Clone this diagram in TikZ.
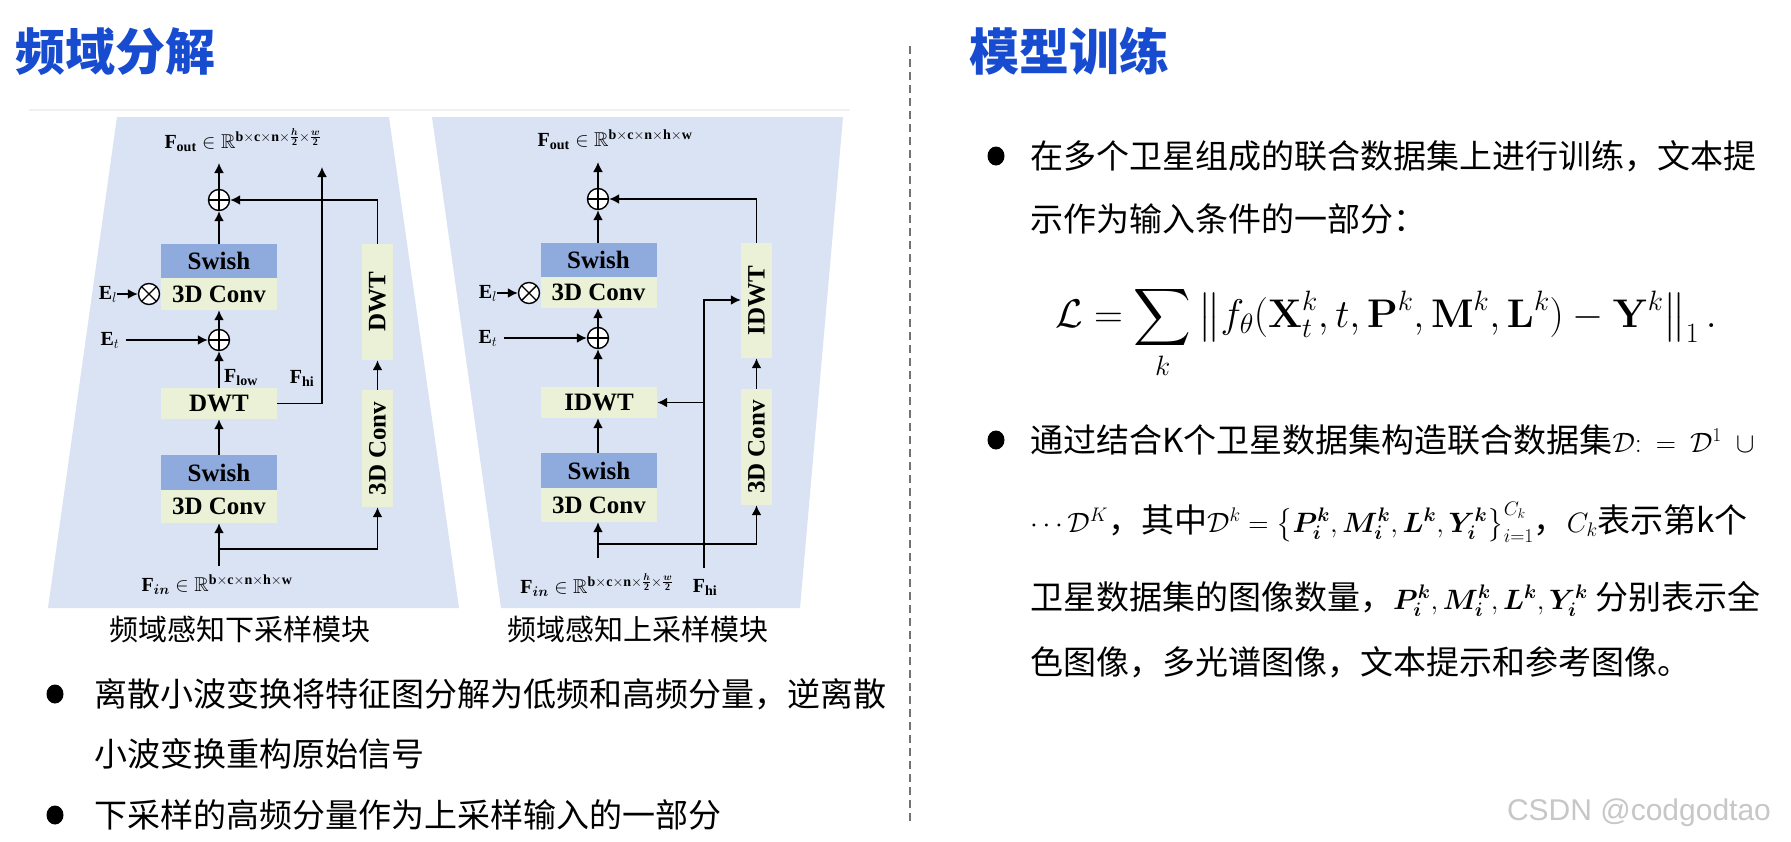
\RequirePackage{fix-cm}
\documentclass[tikz,border=0pt]{standalone}
\usepackage{amsmath,amssymb}
\usepackage{bm}
\usepackage{graphicx}
\usepackage{fontspec}
\setmainfont{Liberation Serif}
\newfontfamily\cjk{Noto Sans CJK SC}
\newfontfamily\wmark{Liberation Sans}
\DeclareMathAlphabet{\mathcmb}{OT1}{cmr}{bx}{n}
\usetikzlibrary{arrows.meta,positioning,shapes.geometric}

\definecolor{trapc}{RGB}{218,227,244}
\definecolor{swishc}{RGB}{143,170,220}
\definecolor{convc}{RGB}{235,241,214}
\definecolor{titlec}{RGB}{24,76,208}

\newcommand{\diafont}{\fontsize{25}{30}\selectfont\bfseries}
\newcommand{\labfont}{\fontsize{20}{23}\selectfont}
\newcommand{\txtfont}{\cjk\fontsize{33}{40}\selectfont}
\newcommand{\smath}[1]{{\fontsize{28}{34}\selectfont$#1$}}

\begin{document}
\begin{tikzpicture}[x=1pt,y=-1pt,
  flow/.style={line width=1.8pt,-{Latex[length=10pt,width=10pt]}},
  swishbox/.style={fill=swishc,minimum width=116pt,minimum height=34pt,inner sep=0pt,font=\diafont},
  convbox/.style={fill=convc,minimum width=116pt,minimum height=32pt,inner sep=0pt,font=\diafont},
  vbox/.style={fill=convc,minimum width=31pt,minimum height=116pt,inner sep=0pt,font=\diafont},
  addop/.style={circle,draw,fill=white,line width=1.4pt,minimum size=21pt,inner sep=0pt,
    path picture={\draw[line width=1.4pt]
      (path picture bounding box.north)--(path picture bounding box.south)
      (path picture bounding box.west)--(path picture bounding box.east);}},
  mulop/.style={circle,draw,fill=white,line width=1.4pt,minimum size=21pt,inner sep=0pt,
    path picture={\draw[line width=1.4pt]
      (path picture bounding box.north west)--(path picture bounding box.south east)
      (path picture bounding box.north east)--(path picture bounding box.south west);}},
  lab/.style={font=\labfont,inner sep=0pt},
  txt/.style={font=\txtfont,anchor=base west,inner sep=0pt},
  blockcap/.style={font=\cjk\fontsize{29}{34}\selectfont,anchor=base,inner sep=0pt},
  title/.style={font=\cjk\bfseries\fontsize{50}{56}\selectfont,text=titlec,anchor=base west,inner sep=0pt},
  dot/.style={ellipse,fill=black,minimum width=17pt,minimum height=19pt,inner sep=0pt}]
\useasboundingbox (0,0) rectangle (1791,841);
\fill[white] (0,0) rectangle (1791,841);

\node[title] (h1) at (15,70) {频域分解};
\node[title] (h2) at (969,70) {模型训练};
\draw[black!6,line width=2pt] (29,110)--(850,110);
\draw[black!55,line width=1.5pt,dash pattern=on 8pt off 5pt] (910,46)--(910,822);

\fill[trapc] (117,117)--(389,117)--(459,608)--(48,608)--cycle;
\fill[trapc] (432,117)--(843,117)--(800,608)--(501,608)--cycle;

% down-sampling block
\node[lab] (foutA) at (243,140)
  {$\mathbf{F}_{\mathbf{out}}\in\mathbb{R}^{\mathbf{b}\times\mathbf{c}\times\mathbf{n}\times\frac{\bm{h}}{\mathbf{2}}\times\frac{\bm{w}}{\mathbf{2}}}$};
\coordinate (outA) at (219,163);
\node[addop] (addA1) at (219,200) {};
\node[swishbox] (swA) at (219,261) {Swish};
\node[convbox] (cvA) at (219,294) {3D Conv};
\node[mulop] (mulA) at (149,294) {};
\node[lab] (elA) at (108,294) {$\mathbf{E}_l$};
\node[addop] (addA2) at (219,340) {};
\node[lab] (etA) at (110,340) {$\mathbf{E}_t$};
\node[convbox,minimum height=31pt] (dwtA) at (219,403.5) {DWT};
\node[lab,anchor=west] (flowA) at (224,378) {$\mathbf{F}_{\mathbf{low}}$};
\node[lab] (fhiA) at (302,378) {$\mathbf{F}_{\mathbf{hi}}$};
\node[swishbox,minimum height=35pt] (swA2) at (219,472.5) {Swish};
\node[convbox,minimum height=33pt] (cvA2) at (219,506.5) {3D Conv};
\node[vbox] (dwtAv) at (377.5,302) {\rotatebox{90}{DWT}};
\node[vbox,minimum height=117pt] (cvAv) at (377.5,448.5) {\rotatebox{90}{3D Conv}};
\coordinate (inA) at (219,566);
\coordinate (brA) at (219,549);
\coordinate (hiA) at (322,167);
\node[lab] (finA) at (217,585) {$\mathbf{F}_{\bm{in}}\in\mathbb{R}^{\mathbf{b}\times\mathbf{c}\times\mathbf{n}\times\mathbf{h}\times\mathbf{w}}$};

\draw[flow] (addA1.north)--(outA);
\draw[flow] (swA.north)--(addA1.south);
\draw[flow] (addA2.north)--(cvA.south);
\draw[flow] (dwtA.north)--(addA2.south);
\draw[flow] (swA2.north)--(dwtA.south);
\draw[flow] (inA)--(cvA2.south);
\draw[flow] (brA)-|(cvAv.south);
\draw[flow] (cvAv.north)--(dwtAv.south);
\draw[flow] (dwtAv.north)|-(addA1.east);
\draw[flow] (dwtA.east)-|(hiA);
\draw[flow] (elA.east)--(mulA.west);
\draw[flow] (etA.east)++(6,0)--(addA2.west);

% up-sampling block
\node[lab] (foutB) at (615,140)
  {$\mathbf{F}_{\mathbf{out}}\in\mathbb{R}^{\mathbf{b}\times\mathbf{c}\times\mathbf{n}\times\mathbf{h}\times\mathbf{w}}$};
\coordinate (outB) at (598,162);
\node[addop] (addB1) at (598,199) {};
\node[swishbox] (swB) at (598.5,260) {Swish};
\node[convbox,minimum height=31pt] (cvB) at (598.5,292.5) {3D Conv};
\node[mulop] (mulB) at (529,293) {};
\node[lab] (elB) at (488,293) {$\mathbf{E}_l$};
\node[addop] (addB2) at (598,338) {};
\node[lab] (etB) at (488,338) {$\mathbf{E}_t$};
\node[convbox,minimum height=31pt] (idwtB) at (599,402.5) {IDWT};
\node[swishbox,minimum height=35pt] (swB2) at (599,470.5) {Swish};
\node[convbox,minimum height=34pt] (cvB2) at (599,505) {3D Conv};
\node[vbox,minimum height=115pt] (idwtBv) at (756.5,300.5) {\rotatebox{90}{IDWT}};
\node[vbox] (cvBv) at (756.5,447) {\rotatebox{90}{3D Conv}};
\coordinate (inB) at (598,558);
\coordinate (brB) at (598,544);
\coordinate (hiB) at (704,568);
\coordinate (kinkB) at (704,300);
\node[lab] (finB) at (597,585) {$\mathbf{F}_{\bm{in}}\in\mathbb{R}^{\mathbf{b}\times\mathbf{c}\times\mathbf{n}\times\frac{\bm{h}}{\mathbf{2}}\times\frac{\bm{w}}{\mathbf{2}}}$};
\node[lab] (fhiB) at (705,587) {$\mathbf{F}_{\mathbf{hi}}$};

\draw[flow] (addB1.north)--(outB);
\draw[flow] (swB.north-|addB1)--(addB1.south);
\draw[flow] (addB2.north)--(cvB.south-|addB2);
\draw[flow] (idwtB.north-|addB2)--(addB2.south);
\draw[flow] (swB2.north-|addB2)--(idwtB.south-|addB2);
\draw[flow] (inB)--(cvB2.south-|inB);
\draw[flow] (brB)-|(cvBv.south);
\draw[flow] (cvBv.north)--(idwtBv.south);
\draw[flow] (idwtBv.north)|-(addB1.east);
\draw[flow] (hiB)--(kinkB)--(kinkB-|idwtBv.west);
\draw[flow] (hiB|-idwtB.east)--(idwtB.east);
\draw[flow] (elB.east)--(mulB.west);
\draw[flow] (etB.east)++(6,0)--(addB2.west);

\node[blockcap] (capA) at (240,640) {频域感知下采样模块};
\node[blockcap] (capB) at (638,640) {频域感知上采样模块};

% bullets
\node[dot] (b1) at (55,694) {};
\node[txt] (t1) at (94,706) {离散小波变换将特征图分解为低频和高频分量，逆离散};
\node[txt] (t2) at (94,766) {小波变换重构原始信号};
\node[dot] (b2) at (55,815) {};
\node[txt] (t3) at (94,827) {下采样的高频分量作为上采样输入的一部分};

\node[dot] (b3) at (996,156) {};
\node[txt] (t4) at (1030,168) {在多个卫星组成的联合数据集上进行训练，文本提};
\node[txt] (t5) at (1030,231) {示作为输入条件的一部分：};
\node[anchor=base,inner sep=0pt,font=\fontsize{40}{46}\selectfont] (eq) at (1386,327.5)
  {$\displaystyle\mathcal{L}=\sum_{k}\big\|f_\theta(\mathcmb{X}_t^k,t,\mathcmb{P}^k,\mathcmb{M}^k,\mathcmb{L}^k)-\mathcmb{Y}^k\big\|_1\,.$};
\node[dot] (b4) at (996,440) {};
\node[txt] (t6) at (1030,452) {通过结合K个卫星数据集构造联合数据集\smath{\mathcal{D}{:}\enspace{=}\enspace\mathcal{D}^1\enspace\cup}};
\node[txt] (t7) at (1030,532) {\smath{\cdots\mathcal{D}^K}，其中\smath{\mathcal{D}^k=\big\{\bm{P}_{\bm{i}}^{\bm{k}},\bm{M}_{\bm{i}}^{\bm{k}},\bm{L}^{\bm{k}},\bm{Y}_{\bm{i}}^{\bm{k}}\big\}_{i=1}^{C_k}}，\smath{C_k}表示第k个};
\node[txt] (t8) at (1030,609) {卫星数据集的图像数量，\smath{\bm{P}_{\bm{i}}^{\bm{k}},\bm{M}_{\bm{i}}^{\bm{k}},\bm{L}^{\bm{k}},\bm{Y}_{\bm{i}}^{\bm{k}}} 分别表示全};
\node[txt] (t9) at (1030,674) {色图像，多光谱图像，文本提示和参考图像。};

\node[font=\wmark\fontsize{30}{34}\selectfont,text=black!22,inner sep=0pt] (wm) at (1639,813) {CSDN @codgodtao};
\end{tikzpicture}
\end{document}
